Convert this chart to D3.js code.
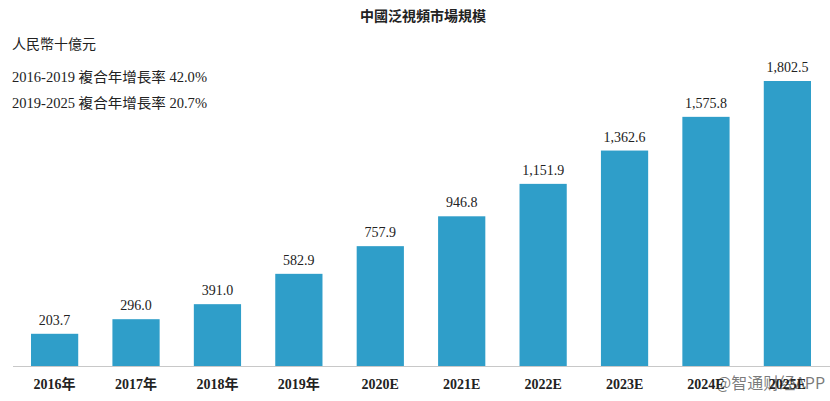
<!DOCTYPE html>
<html>
<head>
<meta charset="utf-8" />
<title>中國泛視頻市場規模</title>
<style>
  body { margin: 0; background: #fff; }
  svg text { font-family: "Liberation Serif", "Noto Sans CJK TC", serif; fill: #222; }
</style>
</head>
<body>
<svg id="chart" width="830" height="401"></svg>
<script src="https://d3js.org/d3.v7.min.js"></script>
<script>
// data
var years = ["2016年", "2017年", "2018年", "2019年", "2020E", "2021E", "2022E", "2023E", "2024E", "2025E"];
var values = [203.7, 296.0, 391.0, 582.9, 757.9, 946.8, 1151.9, 1362.6, 1575.8, 1802.5];
var notes = ["2016-2019 複合年增長率 42.0%", "2019-2025 複合年增長率 20.7%"];

var svg = d3.select("#chart");
var baseY = 366;

// bars start at 31, end at 811
var x = d3.scaleBand().domain(years).range([31, 811]).paddingInner(0.42).paddingOuter(0);
var y = d3.scaleLinear().domain([0, 1802.5]).range([baseY, 81]);

svg.append("text")
  .attr("x", 423).attr("y", 21)
  .attr("text-anchor", "middle")
  .style("font-size", "14px").style("font-weight", "bold")
  .text("中國泛視頻市場規模");

svg.append("text")
  .attr("x", 12).attr("y", 49)
  .style("font-size", "14px")
  .text("人民幣十億元");

svg.selectAll(".note").data(notes).enter().append("text")
  .attr("class", "note")
  .attr("x", 12).attr("y", function(d, i) { return 82 + i * 26; })
  .style("font-size", "14px")
  .attr("textLength", 195).attr("lengthAdjust", "spacingAndGlyphs")
  .text(function(d) { return d; });

svg.selectAll(".bar").data(values).enter().append("rect")
  .attr("class", "bar")
  .attr("x", function(d, i) { return x(years[i]); })
  .attr("width", x.bandwidth())
  .attr("y", function(d) { return y(d); })
  .attr("height", function(d) { return baseY - y(d); })
  .attr("fill", "#2f9ec9");

svg.selectAll(".val").data(values).enter().append("text")
  .attr("class", "val")
  .attr("x", function(d, i) { return x(years[i]) + x.bandwidth() / 2; })
  .attr("y", function(d) { return y(d) - 9; })
  .attr("text-anchor", "middle")
  .style("font-size", "14px")
  .text(function(d) { return d3.format(",.1f")(d); });

var xAxis = svg.append("g")
  .attr("transform", "translate(0," + baseY + ")")
  .call(d3.axisBottom(x).tickSize(0).tickPadding(13));
xAxis.select(".domain").attr("d", "M13,0.5H830").attr("stroke", "#c8c8c8");
xAxis.selectAll("text")
  .style("font-family", "'Liberation Serif', 'Noto Sans CJK TC', serif")
  .style("font-size", "14px").style("font-weight", "bold").attr("fill", "#222");

svg.append("text")
  .attr("x", 716).attr("y", 389)
  .style("font-family", "'Noto Sans CJK SC', sans-serif")
  .style("font-size", "16px")
  .attr("fill", "#999").attr("fill-opacity", 0.6)
  .text("@智通财经APP");
</script>
</body>
</html>
